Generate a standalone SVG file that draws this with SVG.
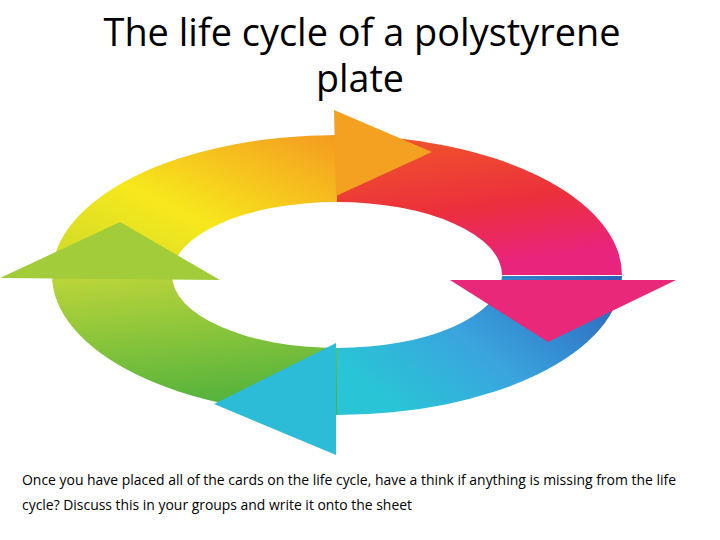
<svg xmlns="http://www.w3.org/2000/svg" width="720" height="540" viewBox="0 0 720 540">
<defs>
<style>
.t{font-family:"Open Sans","Liberation Sans",Arial,sans-serif;fill:#000}
</style>
<linearGradient id="gy" x1="0" y1="1" x2="1" y2="0"><stop offset="0" stop-color="#c9d92c"/><stop offset="0.45" stop-color="#f7e81c"/><stop offset="1" stop-color="#f49a20"/></linearGradient>
<linearGradient id="gr" x1="0" y1="0" x2="0.3" y2="1"><stop offset="0" stop-color="#f05a2a"/><stop offset="0.6" stop-color="#ec2f3c"/><stop offset="1" stop-color="#e9247c"/></linearGradient>
<linearGradient id="gb" x1="1" y1="0" x2="0" y2="0.6"><stop offset="0" stop-color="#2b5fb8"/><stop offset="0.6" stop-color="#3aa4de"/><stop offset="1" stop-color="#29c4d6"/></linearGradient>
<linearGradient id="gg" x1="0.5" y1="1" x2="0.3" y2="0"><stop offset="0" stop-color="#4cb03c"/><stop offset="1" stop-color="#b8d43a"/></linearGradient>
</defs>
<text class="t" x="362" y="46" font-size="38" text-anchor="middle" textLength="517" lengthAdjust="spacingAndGlyphs">The life cycle of a polystyrene</text>
<text class="t" x="360" y="92" font-size="38" text-anchor="middle" textLength="88" lengthAdjust="spacingAndGlyphs">plate</text>
<g id="blue">
<path d="M622,276 A285,140 0 0 1 337,415 L337,348 A165,73 0 0 0 502,276 Z" fill="url(#gb)"/>
</g>
<g id="yellow">
<path d="M52,275 A285,140 0 0 1 337,135 L337,202 A165,73 0 0 0 172,275 Z" fill="url(#gy)"/>
</g>
<g id="red">
<path d="M337,135 A285,140 0 0 1 622,275 L502,275 A165,73 0 0 0 337,202 Z" fill="url(#gr)"/>
</g>
<g id="green">
<path d="M337,415 A285,140 0 0 1 52,275 L172,275 A165,73 0 0 0 337,348 Z" fill="url(#gg)"/>
</g>
<g id="heads">
<polygon points="334,110 432,152 336,196" fill="#f4a020"/>
<polygon points="450,280 676,280 548,342" fill="#e9287a"/>
<polygon points="336,343 336,455 214,404" fill="#2cbcd8"/>
<polygon points="0,278 220,280 120,222" fill="#a2cc3a"/>
</g>
<text class="t" x="22" y="485" font-size="14" textLength="654" lengthAdjust="spacingAndGlyphs">Once you have placed all of the cards on the life cycle, have a think if anything is missing from the life</text>
<text class="t" x="22" y="510" font-size="14" textLength="390" lengthAdjust="spacingAndGlyphs">cycle? Discuss this in your groups and write it onto the sheet</text>
</svg>
